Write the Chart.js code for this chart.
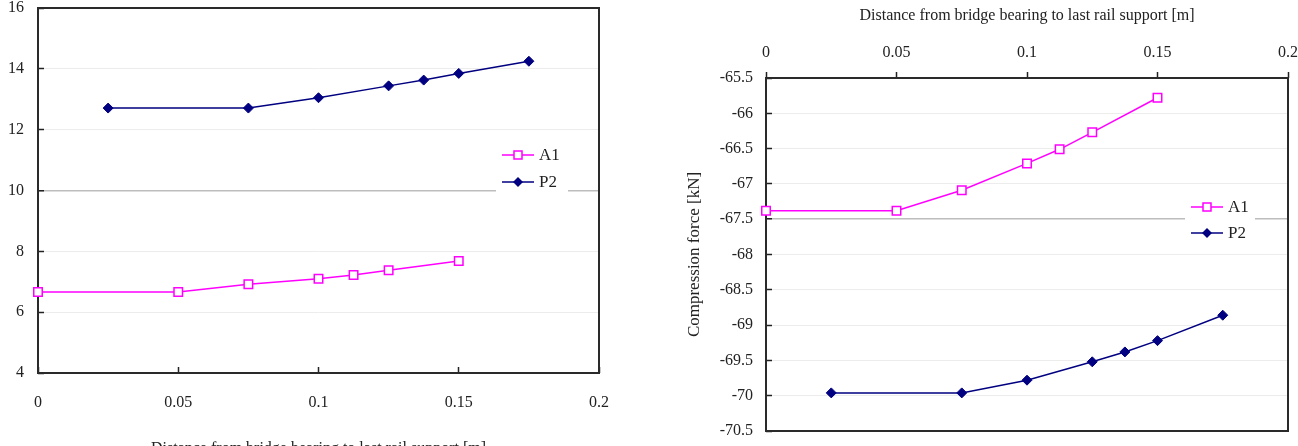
<!DOCTYPE html>
<html>
<head>
<meta charset="utf-8">
<script src="https://cdn.jsdelivr.net/npm/chart.js@4"></script>
<style>
  body { margin: 0; background: #fff; }
  #izq { position: absolute; left: 0; top: 0; }
  #der { position: absolute; left: 660px; top: 0; }
</style>
</head>
<body>
<canvas id="izq" width="640" height="446"></canvas>
<canvas id="der" width="638" height="446"></canvas>
<script>
// distancia al ultimo apoyo [m]
const xA1 = [0, 0.05, 0.075, 0.1, 0.1125, 0.125, 0.15];
const xP2 = [0.025, 0.075, 0.1, 0.125, 0.1375, 0.15, 0.175];

// grafico izquierdo
const izqA1 = [6.66, 6.66, 6.92, 7.1, 7.22, 7.38, 7.68];
const izqP2 = [12.71, 12.71, 13.05, 13.44, 13.63, 13.85, 14.25];

// grafico derecho, fuerza de compresion [kN]
const derA1 = [-67.38, -67.38, -67.09, -66.71, -66.51, -66.27, -65.78];
const derP2 = [-69.96, -69.96, -69.78, -69.52, -69.38, -69.22, -68.86];

const xTicks = [0, 0.05, 0.1, 0.15, 0.2];
const izqTicks = [4, 6, 8, 10, 12, 14, 16];
const derTicks = [-70.5, -70, -69.5, -69, -68.5, -68, -67.5, -67, -66.5, -66, -65.5];

const tituloX = "Distance from bridge bearing to last rail support [m]";
const tituloY = "Compression force [kN]";

const fuente = "'Liberation Serif', 'Times New Roman', serif";
const fmt = (v) => String(+v.toFixed(3));

const puntos = (xs, ys) => xs.map((x, i) => ({ x: x, y: ys[i] }));

const series = (a1, p2) => [
  {
    label: "A1",
    data: puntos(xA1, a1),
    borderColor: "#ff00ff",
    backgroundColor: "#ffffff",
    borderWidth: 1.5,
    pointStyle: "rect",
    pointRadius: 6,
    pointBorderWidth: 1.5,
    showLine: true,
    clip: false,
  },
  {
    label: "P2",
    data: puntos(xP2, p2),
    borderColor: "#000080",
    backgroundColor: "#000080",
    borderWidth: 1.5,
    pointStyle: "rectRot",
    pointRadius: 5,
    pointBorderWidth: 1,
    showLine: true,
    clip: false,
  },
];

// fija el tamaño del eje y quita el relleno automatico
const fijar = (prop, valor) => (s) => {
  s[prop] = valor;
  s.paddingTop = 0;
  s.paddingBottom = 0;
  s.paddingLeft = 0;
  s.paddingRight = 0;
};

// marco del area de grafico
const marco = {
  id: "marco",
  beforeDatasetsDraw(chart) {
    const { ctx, chartArea: a } = chart;
    ctx.save();
    ctx.strokeStyle = "#2a2a2a";
    ctx.lineWidth = 2;
    ctx.strokeRect(a.left, a.top, a.right - a.left, a.bottom - a.top);
    ctx.restore();
  },
};

// leyenda dentro del grafico, con fondo blanco
const leyenda = {
  id: "leyenda",
  afterDraw(chart, args, opts) {
    const { ctx } = chart;
    ctx.save();
    ctx.fillStyle = "#fff";
    ctx.fillRect(opts.caja[0], opts.caja[1], opts.caja[2], opts.caja[3]);
    chart.data.datasets.forEach((ds, i) => {
      const y = opts.y + i * opts.paso;
      const x = opts.x;
      ctx.strokeStyle = ds.borderColor;
      ctx.lineWidth = 1.5;
      ctx.beginPath();
      ctx.moveTo(x, y);
      ctx.lineTo(x + 32, y);
      ctx.stroke();
      const cx = x + 16;
      ctx.beginPath();
      if (ds.pointStyle === "rect") {
        ctx.fillStyle = "#fff";
        ctx.rect(cx - 4, y - 4, 8, 8);
        ctx.fill();
        ctx.stroke();
      } else {
        ctx.fillStyle = ds.backgroundColor;
        ctx.moveTo(cx, y - 5);
        ctx.lineTo(cx + 5, y);
        ctx.lineTo(cx, y + 5);
        ctx.lineTo(cx - 5, y);
        ctx.closePath();
        ctx.fill();
      }
      ctx.fillStyle = "#222";
      ctx.font = "17px " + fuente;
      ctx.textBaseline = "middle";
      ctx.fillText(ds.label, x + 37, y + 1);
    });
    ctx.restore();
  },
};

const gridY = (oscura) => ({
  color: (c) => (c.tick && c.tick.value === oscura ? "#bdbdbd" : "#ececec"),
  lineWidth: (c) => (c.tick && c.tick.value === oscura ? 1.5 : 1),
  drawTicks: true,
  tickLength: -6,
  tickColor: "#222",
  tickWidth: 1.5,
});

new Chart(document.querySelector("#izq"), {
  type: "scatter",
  data: { datasets: series(izqA1, izqP2) },
  plugins: [marco, leyenda],
  options: {
    responsive: false,
    animation: false,
    events: [],
    layout: { autoPadding: false, padding: { left: 0, top: 8, right: 41, bottom: 0 } },
    plugins: {
      legend: { display: false },
      tooltip: { enabled: false },
      leyenda: { caja: [496, 140, 72, 55], x: 502, y: 155, paso: 27 },
    },
    scales: {
      x: {
        type: "linear",
        position: "bottom",
        min: 0,
        max: 0.2,
        afterBuildTicks: (s) => { s.ticks = xTicks.map((v) => ({ value: v })); },
        afterFit: fijar("height", 73),
        border: { display: false },
        grid: { drawOnChartArea: false, drawTicks: true, tickLength: -6, tickColor: "#222", tickWidth: 1.5 },
        ticks: { padding: 26, color: "#222", font: { family: fuente, size: 16 }, callback: fmt, maxRotation: 0, autoSkip: false },
        title: { display: true, text: tituloX, color: "#222", font: { family: fuente, size: 16 }, padding: { top: 0, bottom: -12 } },
      },
      y: {
        type: "linear",
        min: 4,
        max: 16,
        afterBuildTicks: (s) => { s.ticks = izqTicks.map((v) => ({ value: v })); },
        afterFit: fijar("width", 38),
        border: { display: false },
        grid: gridY(10),
        ticks: { padding: 20, color: "#222", font: { family: fuente, size: 16 }, callback: fmt, autoSkip: false },
      },
    },
  },
});

new Chart(document.querySelector("#der"), {
  type: "scatter",
  data: { datasets: series(derA1, derP2) },
  plugins: [marco, leyenda],
  options: {
    responsive: false,
    animation: false,
    events: [],
    layout: { autoPadding: false, padding: { left: 0, top: 0, right: 10, bottom: 15 } },
    plugins: {
      legend: { display: false },
      tooltip: { enabled: false },
      leyenda: { caja: [525, 193, 70, 54], x: 531, y: 207, paso: 26 },
    },
    scales: {
      x: {
        type: "linear",
        position: "top",
        min: 0,
        max: 0.2,
        afterBuildTicks: (s) => { s.ticks = xTicks.map((v) => ({ value: v })); },
        afterFit: fijar("height", 78),
        border: { display: false },
        grid: { drawOnChartArea: false, drawTicks: true, tickLength: 6, tickColor: "#222", tickWidth: 1.5 },
        ticks: { padding: 10, color: "#222", font: { family: fuente, size: 16 }, callback: fmt, maxRotation: 0, autoSkip: false },
        title: { display: true, text: tituloX, color: "#222", font: { family: fuente, size: 16 }, padding: { top: 6, bottom: 0 } },
      },
      y: {
        type: "linear",
        min: -70.5,
        max: -65.5,
        afterBuildTicks: (s) => { s.ticks = derTicks.map((v) => ({ value: v })); },
        afterFit: fijar("width", 106),
        border: { display: false },
        grid: gridY(-67.5),
        ticks: { padding: 19, color: "#222", font: { family: fuente, size: 16 }, callback: fmt, autoSkip: false },
        title: { display: true, text: tituloY, color: "#222", font: { family: fuente, size: 17 }, padding: { top: 24, bottom: 0 } },
      },
    },
  },
});
</script>
</body>
</html>
